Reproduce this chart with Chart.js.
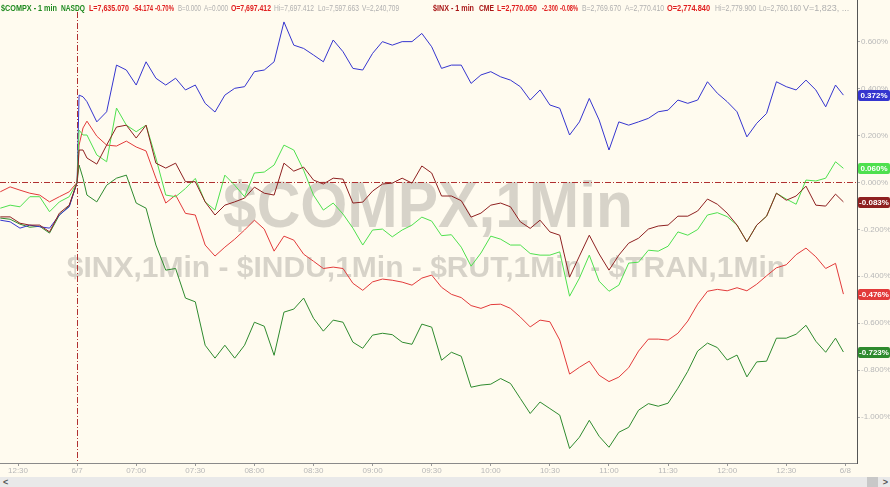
<!DOCTYPE html>
<html>
<head>
<meta charset="utf-8">
<script src="https://cdn.jsdelivr.net/npm/chart.js@4.4.1/dist/chart.umd.min.js"></script>
<style>
  html, body { margin: 0; padding: 0; background: #fffbef; }
  #wrap { position: relative; width: 890px; height: 477px; }
  #bar { position: relative; width: 890px; height: 10px; background: #e9e9e9; font: bold 9px 'Liberation Sans', Arial, sans-serif; color: #555; }
  #bar .l { position: absolute; left: 3px; top: 0; }
  #bar .r { position: absolute; right: 2px; top: 0; }
  #bar .sq { position: absolute; left: 867px; top: 0; width: 11px; height: 10px; background: #c8c8c8; }
</style>
</head>
<body>
<div id="wrap"><canvas id="chart"></canvas></div>
<div id="bar"><span class="l">&lt;</span><span class="sq"></span><span class="r">&gt;</span></div>
<script>
/* ── 데이터 (분 단위: 0 = 전일 12:30, 30 = 6/7 개장) ── */
const minutes = [-9,-4,1,6,11,16,21,26,30,31,33,35,40,45,50,55,60,65,70,75,80,85,90,95,100,105,110,115,120,125,130,135,140,145,150,155,160,165,170,175,180,185,190,195,200,205,210,215,220,225,230,235,240,245,250,255,260,265,270,275,280,285,290,295,300,305,310,315,320,325,330,335,340,345,350,355,360,365,370,375,380,385,390,395,400,405,410,415,419];

const inxPct = [-0.147,-0.147,-0.174,-0.182,-0.182,-0.211,-0.131,-0.097,0,
  0.138,0.138,0.104,0.078,0.159,0.236,0.244,0.189,0.244,0.082,
  0.061,0.082,0.003,0.003,-0.083,-0.139,-0.097,-0.083,-0.067,-0.020,
  -0.046,-0.054,0.082,0.048,0.065,0.010,-0.007,0.018,0.014,-0.088,
  -0.084,-0.037,-0.007,-0.003,0.018,-0.003,0.070,0.040,-0.058,-0.058,
  -0.078,-0.148,-0.131,-0.097,-0.088,-0.104,-0.168,-0.196,-0.161,-0.211,
  -0.225,-0.404,-0.314,-0.225,-0.305,-0.374,-0.310,-0.259,-0.238,-0.199,
  -0.186,-0.182,-0.144,-0.144,-0.122,-0.071,-0.093,-0.131,-0.182,-0.253,
  -0.182,-0.144,-0.046,-0.076,-0.058,-0.016,-0.097,-0.101,-0.050,-0.083];

const induPct = [-0.161,-0.168,-0.195,-0.182,-0.189,-0.195,-0.139,-0.104,0,
  0.372,0.365,0.344,0.258,0.301,0.500,0.479,0.415,0.514,0.444,
  0.415,0.444,0.394,0.415,0.337,0.300,0.372,0.401,0.408,0.472,
  0.479,0.514,0.684,0.585,0.571,0.543,0.514,0.607,0.557,0.486,
  0.479,0.550,0.600,0.585,0.600,0.600,0.635,0.578,0.486,0.500,
  0.500,0.422,0.458,0.472,0.450,0.436,0.408,0.351,0.394,0.330,
  0.316,0.202,0.258,0.358,0.266,0.138,0.258,0.244,0.258,0.273,
  0.301,0.308,0.351,0.337,0.351,0.429,0.380,0.344,0.301,0.194,
  0.252,0.294,0.429,0.408,0.394,0.436,0.394,0.322,0.415,0.372];

const rutPct = [-0.040,-0.019,-0.033,-0.046,-0.054,-0.083,-0.061,-0.040,0,
  0.159,0.232,0.261,0.197,0.159,0.155,0.176,0.151,0.134,0.018,
  -0.088,-0.054,-0.132,-0.139,-0.267,-0.314,-0.276,-0.242,-0.203,-0.161,
  -0.199,-0.293,-0.229,-0.246,-0.306,-0.336,-0.367,-0.361,-0.367,-0.430,
  -0.460,-0.424,-0.412,-0.417,-0.425,-0.438,-0.408,-0.395,-0.447,-0.477,
  -0.491,-0.525,-0.537,-0.521,-0.519,-0.537,-0.574,-0.616,-0.587,-0.594,
  -0.672,-0.817,-0.788,-0.762,-0.822,-0.849,-0.830,-0.790,-0.719,-0.668,
  -0.668,-0.672,-0.643,-0.591,-0.519,-0.464,-0.456,-0.462,-0.449,-0.462,
  -0.434,-0.398,-0.364,-0.351,-0.308,-0.280,-0.317,-0.367,-0.345,-0.476];

const tranPct = [-0.110,-0.097,-0.104,-0.061,-0.061,-0.125,-0.083,-0.061,0,
  0.223,0.202,0.202,0.117,0.088,0.317,0.244,0.216,0.244,0.104,
  -0.054,-0.061,-0.026,0.017,-0.083,-0.118,0.031,-0.012,-0.061,0.040,
  0.044,0.074,0.159,0.138,0.052,-0.054,-0.118,-0.088,-0.135,-0.195,
  -0.267,-0.203,-0.199,-0.232,-0.203,-0.182,-0.148,-0.165,-0.227,-0.223,
  -0.276,-0.357,-0.301,-0.229,-0.242,-0.267,-0.267,-0.303,-0.310,-0.310,
  -0.296,-0.485,-0.408,-0.310,-0.421,-0.464,-0.438,-0.344,-0.340,-0.289,
  -0.293,-0.272,-0.211,-0.225,-0.201,-0.139,-0.129,-0.146,-0.182,-0.253,
  -0.182,-0.144,-0.046,-0.071,-0.093,0.010,0.006,0.018,0.088,0.060];

const compxPct = [-0.152,-0.157,-0.178,-0.191,-0.187,-0.216,-0.139,-0.101,0,
  0.074,0.018,-0.054,-0.083,-0.012,0.018,0.031,-0.088,-0.110,-0.267,
  -0.374,-0.367,-0.493,-0.509,-0.694,-0.749,-0.694,-0.749,-0.694,-0.596,
  -0.613,-0.737,-0.553,-0.540,-0.493,-0.579,-0.634,-0.587,-0.596,-0.681,
  -0.707,-0.651,-0.643,-0.649,-0.681,-0.690,-0.604,-0.617,-0.758,-0.724,
  -0.741,-0.873,-0.864,-0.860,-0.836,-0.857,-0.921,-0.985,-0.936,-0.964,
  -0.992,-1.134,-1.086,-1.014,-1.082,-1.129,-1.065,-1.044,-0.971,-0.943,
  -0.954,-0.941,-0.877,-0.805,-0.719,-0.685,-0.704,-0.757,-0.736,-0.829,
  -0.765,-0.762,-0.664,-0.664,-0.647,-0.609,-0.677,-0.724,-0.664,-0.723];

const xTickMinutes = [0,30,60,90,120,150,180,210,240,270,300,330,360,390,420];
const xTickLabels  = ['12:30','6/7','07:00','07:30','08:00','08:30','09:00','09:30','10:00','10:30','11:00','11:30','12:00','12:30','6/8'];
const yTickValues  = [0.6,0.4,0.2,0,-0.2,-0.4,-0.6,-0.8,-1.0];

const sessionOpen = 30;

/* ── 헤더 텍스트 ── */
const GREEN = '#1f8a1f', RED = '#e01e1e', GRAY = '#b0b0b0', DRED = '#a81616';
const HEADER = [
  ['$COMPX - 1 min', 1, 56, GREEN], ['NASDQ', 61, 24, GREEN],
  ['L=7,635.070', 89, 40, RED], ['-54.174', 133, 20, RED], ['-0.70%', 155, 19, RED],
  ['B=0.000', 178, 23, GRAY], ['A=0.000', 204, 24, GRAY],
  ['O=7,697.412', 231, 40, RED], ['Hi=7,697.412', 274, 40, GRAY],
  ['Lo=7,597.663', 318, 41, GRAY], ['V=2,240,709', 362, 37, GRAY],
  ['$INX - 1 min', 433, 41, DRED], ['CME', 479, 15, DRED],
  ['L=2,770.050', 497, 40, RED], ['-2.300', 542, 16, RED], ['-0.08%', 560, 18, RED],
  ['B=2,769.670', 582, 39, GRAY], ['A=2,770.410', 625, 39, GRAY],
  ['O=2,774.840', 667, 43, RED], ['Hi=2,779.900', 715, 41, GRAY],
  ['Lo=2,760.160', 759, 42, GRAY], ['V=1,823, ...', 803, 50, GRAY]
];

/* ── 시리즈 ── */
const SERIES = [
  { label: '$INX',  data: inxPct,   color: '#8e2020' },
  { label: '$TRAN', data: tranPct,  color: '#4ee04e' },
  { label: '$INDU', data: induPct,  color: '#3535cf' },
  { label: '$RUT',  data: rutPct,   color: '#e23a3a' },
  { label: '$COMPX',data: compxPct, color: '#2e8a2e' }
];

const FONT = "'Liberation Sans', Arial, sans-serif";

const overlay = {
  id: 'overlay',
  beforeDatasetsDraw(chart) {
    const { ctx, chartArea: a, scales: { x, y } } = chart;
    ctx.save();
    // 워터마크
    ctx.fillStyle = 'rgba(150,148,140,0.38)';
    ctx.textAlign = 'center';
    ctx.textBaseline = 'middle';
    ctx.font = 'bold 64px ' + FONT;
    ctx.fillText('$COMPX,1Min', 428, 209, 410);
    ctx.font = 'bold 30px ' + FONT;
    ctx.fillText('$INX,1Min - $INDU,1Min - $RUT,1Min - $TRAN,1Min', 426, 269, 756);

    // 기준선 (0%, 개장)
    ctx.strokeStyle = '#b03030';
    ctx.lineWidth = 1;
    ctx.setLineDash([6, 2, 1, 2]);
    const y0 = Math.round(y.getPixelForValue(0)) + 0.5;
    ctx.beginPath(); ctx.moveTo(a.left, y0); ctx.lineTo(a.right, y0); ctx.stroke();
    const xo = Math.round(x.getPixelForValue(sessionOpen)) + 0.5;
    ctx.beginPath(); ctx.moveTo(xo, 12); ctx.lineTo(xo, a.bottom); ctx.stroke();
    ctx.restore();
  },
  afterDraw(chart) {
    const { ctx, chartArea: a, scales: { y } } = chart;
    ctx.save();
    // 헤더 (회색 항목은 보통 굵기)
    ctx.textBaseline = 'alphabetic';
    ctx.textAlign = 'left';
    HEADER.forEach(([t, hx, w, c]) => {
      ctx.font = (c === GRAY ? '' : 'bold ') + '9px ' + FONT;
      ctx.fillStyle = c;
      ctx.fillText(t, hx, 11, w);
    });
    // 오른쪽 축선 상단 연장
    ctx.strokeStyle = '#555';
    ctx.beginPath(); ctx.moveTo(a.right + 0.5, 0); ctx.lineTo(a.right + 0.5, a.top); ctx.stroke();

    // 마지막 값 배지
    ctx.font = 'bold 8px ' + FONT;
    ctx.textBaseline = 'middle';
    ctx.textAlign = 'center';
    SERIES.forEach(s => {
      const v = s.data[s.data.length - 1];
      const py = Math.round(y.getPixelForValue(v));
      ctx.fillStyle = s.color;
      ctx.beginPath();
      ctx.roundRect(a.right + 1, py - 5, 32, 11, 2);
      ctx.fill();
      ctx.fillStyle = '#fff';
      ctx.fillText(v.toFixed(3) + '%', a.right + 17, py + 0.5, 30);
    });
    ctx.restore();
  }
};

function init() {
  const ctx = document.getElementById('chart').getContext('2d');
  new Chart(ctx, {
    type: 'line',
    data: {
      datasets: SERIES.map(s => ({
        label: s.label,
        data: s.data.map((v, i) => ({ x: minutes[i], y: v })),
        borderColor: s.color,
        borderWidth: 1,
        pointRadius: 0,
        tension: 0,
        fill: false
      }))
    },
    options: {
      responsive: true,
      maintainAspectRatio: false,
      animation: false,
      layout: { padding: { top: 17, left: 0, right: 0, bottom: 0 } },
      plugins: { legend: { display: false }, tooltip: { enabled: false } },
      scales: {
        x: {
          type: 'linear',
          min: -9.14,
          max: 425.9,
          afterBuildTicks: s => { s.ticks = xTickMinutes.map(v => ({ value: v })); },
          afterFit: s => { s.height = 14; },
          ticks: {
            autoSkip: false, maxRotation: 0, padding: 0,
            color: '#b8b8b8', font: { size: 8, family: FONT },
            callback: v => xTickLabels[xTickMinutes.indexOf(v)]
          },
          grid: { drawOnChartArea: false, drawTicks: true, tickLength: 3, color: '#999' },
          border: { display: true, color: '#8a8a8a' }
        },
        y: {
          position: 'right',
          min: -1.196,
          max: 0.705,
          afterBuildTicks: s => { s.ticks = yTickValues.map(v => ({ value: v })); },
          afterFit: s => { s.width = 33; },
          ticks: {
            padding: 1,
            color: '#b8b8b8', font: { size: 8, family: FONT },
            callback: v => v.toFixed(3) + '%'
          },
          grid: { drawOnChartArea: false, drawTicks: true, tickLength: 3, color: '#aaa' },
          border: { display: true, color: '#555' }
        }
      }
    },
    plugins: [overlay]
  });
}

document.addEventListener('DOMContentLoaded', init);
</script>
</body>
</html>
